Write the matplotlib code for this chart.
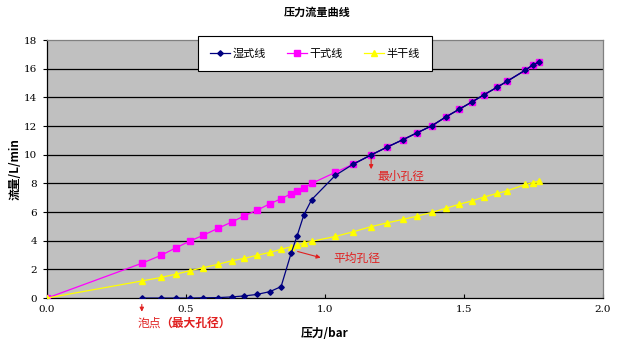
import matplotlib
matplotlib.use("Agg")
import matplotlib.pyplot as plt

plt.rcParams['font.family'] = ['Noto Sans CJK SC', 'DejaVu Sans']

# ---- data ----
pressure = [0, 0.34, 0.41, 0.464, 0.514, 0.562, 0.614, 0.664, 0.71, 0.754, 0.802,
            0.842, 0.878, 0.90, 0.924, 0.952, 1.037, 1.102, 1.165, 1.224, 1.28,
            1.332, 1.384, 1.434, 1.482, 1.53, 1.572, 1.618, 1.656, 1.721, 1.747, 1.769]
dry_flow = [0, 2.42, 2.98, 3.51, 3.98, 4.38, 4.86, 5.30, 5.74, 6.12, 6.58,
            6.93, 7.28, 7.49, 7.70, 8.0, 8.77, 9.35, 9.98, 10.54, 11.05,
            11.54, 12.02, 12.63, 13.17, 13.70, 14.19, 14.70, 15.14, 15.91, 16.26, 16.45]
half_dry_flow = [0, 1.19, 1.44, 1.67, 1.91, 2.12, 2.35, 2.60, 2.77, 2.98, 3.19,
                 3.40, 3.58, 3.70, 3.84, 3.96, 4.30, 4.63, 4.98, 5.25, 5.49,
                 5.72, 5.98, 6.26, 6.54, 6.79, 7.05, 7.30, 7.49, 7.93, 8.05, 8.16]
wet_pressure = pressure[1:]
wet_flow = [0, 0, 0, 0, 0.02, 0.03, 0.08, 0.15, 0.25, 0.45,
            0.8, 3.12, 4.36, 5.81, 6.87, 8.56, 9.35, 9.98, 10.54, 11.05,
            11.54, 12.02, 12.63, 13.17, 13.70, 14.19, 14.70, 15.14, 15.91, 16.26, 16.45]

series_names = ['湿式线', '干式线', '半干线']
x_ticks = [0.0, 0.5, 1.0, 1.5, 2.0]
y_ticks = list(range(0, 19, 2))

title = '压力流量曲线'
x_label = '压力/bar'
y_label = '流量/L/min'

# ---- figure ----
fig = plt.figure(figsize=(6.21, 3.43), dpi=100)
ax = fig.add_axes([0.0757, 0.131, 0.8953, 0.752])
ax.set_facecolor('#C0C0C0')

for y in y_ticks[1:-1]:
    ax.axhline(y, color='#000000', lw=0.9, zorder=1)

l_wet, = ax.plot(wet_pressure, wet_flow, color='#000080', lw=0.9, marker='D',
                 markersize=2.8, markerfacecolor='#000080', markeredgecolor='#000080',
                 zorder=4, label=series_names[0])
l_dry, = ax.plot(pressure, dry_flow, color='#FF00FF', lw=0.9, marker='s',
                 markersize=4.2, markerfacecolor='#FF00FF', markeredgecolor='#FF00FF',
                 zorder=3, label=series_names[1])
l_half, = ax.plot(pressure, half_dry_flow, color='#FFFF00', lw=0.9, marker='^',
                  markersize=4.0, markerfacecolor='#FFFF00', markeredgecolor='#FFFF00',
                  zorder=3, label=series_names[2])
# wet line drawn on top of dry for the overlapping part
ax.plot(wet_pressure[-15:], wet_flow[-15:], color='#000080', lw=0.9, zorder=3.5)

ax.set_xlim(0, 2.0)
ax.set_ylim(0, 18)
ax.set_xticks(x_ticks)
ax.set_xticklabels([f'{v:.1f}' for v in x_ticks], fontsize=7.5, family='DejaVu Serif')
ax.set_yticks(y_ticks)
ax.set_yticklabels([str(v) for v in y_ticks], fontsize=7.5, family='DejaVu Serif')
ax.tick_params(axis='y', direction='out', length=3, width=0.8, pad=4)
ax.tick_params(axis='x', direction='in', length=3, width=0.8, pad=5)

for s in ['left', 'bottom']:
    ax.spines[s].set_color('#000000')
    ax.spines[s].set_linewidth(0.9)
for s in ['right', 'top']:
    ax.spines[s].set_color('#808080')
    ax.spines[s].set_linewidth(0.9)

fig.text(0.51, 0.965, title, ha='center', va='center', fontsize=8, fontweight='bold')
ax.set_xlabel(x_label, fontsize=8.5, fontweight='bold')
ax.xaxis.set_label_coords(0.5, -0.136)
ax.xaxis.label.set_va('center')
ax.set_ylabel(y_label, fontsize=8.5, fontweight='bold')
ax.yaxis.set_label_coords(-0.058, 0.5)
ax.yaxis.label.set_va('center')

leg = ax.legend(handles=[l_wet, l_dry, l_half], loc='center',
                bbox_to_anchor=(0.482, 0.948), ncol=3, fontsize=8,
                frameon=True, fancybox=False, edgecolor='#000000',
                facecolor='white', framealpha=1, borderpad=1.1,
                handlelength=1.8, handletextpad=0.2, columnspacing=1.9)
leg.get_frame().set_linewidth(0.8)
leg.set_zorder(10)

red = '#E02020'
# annotations
ax.annotate('', xy=(1.166, 8.8), xytext=(1.166, 10.0),
            arrowprops=dict(arrowstyle='-|>', color=red, lw=0.8, mutation_scale=6))
ax.text(1.19, 8.5, '最小孔径', color=red, fontsize=8.5, va='center', ha='left')

ax.annotate('', xy=(0.994, 2.77), xytext=(0.892, 3.3),
            arrowprops=dict(arrowstyle='-|>', color=red, lw=0.8, mutation_scale=6))
ax.text(1.03, 2.79, '平均孔径', color=red, fontsize=8.5, va='center', ha='left')

ax.annotate('', xy=(0.341, -1.15), xytext=(0.341, -0.25),
            arrowprops=dict(arrowstyle='-|>', color=red, lw=0.8, mutation_scale=6),
            annotation_clip=False)
t1 = ax.text(0.324, -1.75, '泡点', color=red, fontsize=8.5, va='center', ha='left',
             clip_on=False)
ax.annotate('（最大孔径）', xy=(1, 0.5), xycoords=t1, xytext=(0, 0),
            textcoords='offset points', color=red, fontsize=8.5, va='center',
            ha='left', fontweight='bold', annotation_clip=False)

fig.savefig('out.png', dpi=100, facecolor='white')
